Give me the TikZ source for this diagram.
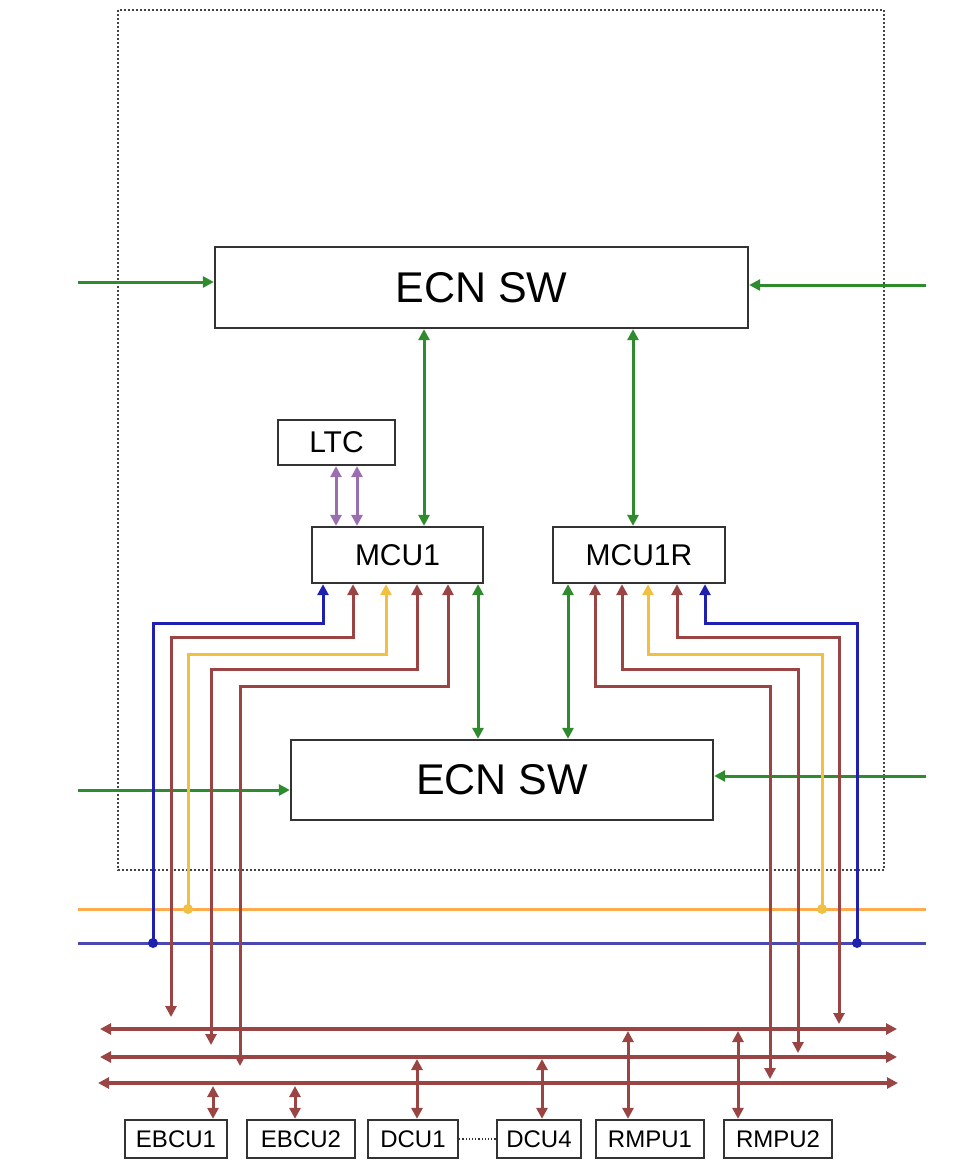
\documentclass[tikz,border=0pt]{standalone}
\usepackage{fontspec}
\setmainfont{Liberation Sans}
\usetikzlibrary{arrows.meta}
\definecolor{cgreen}{HTML}{2E8B2E}
\definecolor{cpurple}{HTML}{9A6FB0}
\definecolor{cblue}{HTML}{2020B0}
\definecolor{cbusblue}{HTML}{4848B0}
\definecolor{corange}{HTML}{FFAA4C}
\definecolor{cyellow}{HTML}{F2C040}
\definecolor{cbrown}{HTML}{9A4444}
\definecolor{cbox}{HTML}{333333}
\definecolor{cframe}{HTML}{444444}
\tikzset{
  >={Triangle[length=11pt,width=11pt]},
  box/.style={draw=cbox,line width=2.3pt,fill=white,inner sep=0pt},
  bigbox/.style={box,font=\fontsize{43}{43}\selectfont},
  midbox/.style={box,font=\fontsize{30}{30}\selectfont},
  smallbox/.style={box,font=\fontsize{24}{24}\selectfont,minimum height=38pt},
  gline/.style={draw=cgreen,line width=3pt},
  pline/.style={draw=cpurple,line width=3pt},
  bline/.style={draw=cblue,line width=3pt},
  yline/.style={draw=cyellow,line width=3pt},
  rline/.style={draw=cbrown,line width=3pt},
  rbus/.style={draw=cbrown,line width=3.2pt},
  dotnode/.style={circle,inner sep=0pt,minimum size=10pt},
  frame/.style={draw=cframe,line width=2.2pt,dash pattern=on 2pt off 2pt},
}
\begin{document}
\begin{tikzpicture}[x=1pt,y=-1pt]
\useasboundingbox (0,0) rectangle (973,1160);
% dotted frame
\draw[frame] (118,10) rectangle (884,870);

% main nodes
\node[bigbox,minimum width=533pt,minimum height=81pt] (top) at (481.5,287.5) {ECN SW};
\node[bigbox,minimum width=422pt,minimum height=80pt] (low) at (502,780) {ECN SW};
\node[midbox,minimum width=117pt,minimum height=45pt] (ltc) at (336.5,442.5) {LTC};
\node[midbox,minimum width=171pt,minimum height=56pt] (mcu1) at (397.5,555) {MCU1};
\node[midbox,minimum width=172pt,minimum height=56pt] (mcu1r) at (639,555) {MCU1R};

% bottom devices
\node[smallbox,minimum width=102pt] (ebcu1) at (176,1139) {EBCU1};
\node[smallbox,minimum width=108pt] (ebcu2) at (301,1139) {EBCU2};
\node[smallbox,minimum width=90pt] (dcu1) at (413,1139) {DCU1};
\node[smallbox,minimum width=84pt] (dcu4) at (539,1139) {DCU4};
\node[smallbox,minimum width=108pt] (rmpu1) at (650,1139) {RMPU1};
\node[smallbox,minimum width=108pt] (rmpu2) at (778,1139) {RMPU2};
\draw[cbox,line width=1.2pt,dotted] (dcu1.east) -- (dcu4.west);

% external green inputs
\coordinate (gin1) at (78,282);
\coordinate (gin2) at (926,285);
\coordinate (gin3) at (78,790);
\coordinate (gin4) at (926,776);
\draw[gline,->] (gin1) -- (gin1 -| top.west);
\draw[gline,->] (gin2) -- (gin2 -| top.east);
\draw[gline,->] (gin3) -- (gin3 -| low.west);
\draw[gline,->] (gin4) -- (gin4 -| low.east);

% green links
\draw[gline,<->] (top.south -| 424,0) -- (mcu1.north -| 424,0);
\draw[gline,<->] (top.south -| 633,0) -- (mcu1r.north -| 633,0);
\draw[gline,<->] (mcu1.south -| 478,0) -- (low.north -| 478,0);
\draw[gline,<->] (mcu1r.south -| 568,0) -- (low.north -| 568,0);

% purple LTC links
\draw[pline,<->] (ltc.south -| 336,0) -- (mcu1.north -| 336,0);
\draw[pline,<->] (ltc.south -| 357,0) -- (mcu1.north -| 357,0);

% buses
\coordinate (obusl) at (78,909);
\coordinate (obusr) at (926,909);
\coordinate (bbusl) at (78,943);
\coordinate (bbusr) at (926,943);
\draw[draw=corange,line width=3pt] (obusl) -- (obusr);
\draw[draw=cbusblue,line width=3pt] (bbusl) -- (bbusr);
\coordinate (bus1l) at (100,1029);
\coordinate (bus1r) at (897,1029);
\coordinate (bus2l) at (100,1057);
\coordinate (bus2r) at (897,1057);
\coordinate (bus3l) at (98,1083);
\coordinate (bus3r) at (898,1083);
\draw[rbus,<->] (bus1l) -- (bus1r);
\draw[rbus,<->] (bus2l) -- (bus2r);
\draw[rbus,<->] (bus3l) -- (bus3r);

% junction dots
\node[dotnode,fill=cblue] (dbl) at (153,943) {};
\node[dotnode,fill=cyellow] (dyl) at (188,909) {};
\node[dotnode,fill=cyellow] (dyr) at (822,909) {};
\node[dotnode,fill=cblue] (dbr) at (857,943) {};

% MCU1 lower links
\draw[bline,<-] (mcu1.south -| 323,0) -- (323,623) -- (153,623) -- (dbl.center);
\draw[rline,<->] (mcu1.south -| 353,0) -- (353,637) -- (171,637) -- ([yshift=12pt]bus1l -| 171,0);
\draw[yline,<-] (mcu1.south -| 386,0) -- (386,654) -- (188,654) -- (dyl.center);
\draw[rline,<->] (mcu1.south -| 417,0) -- (417,669) -- (211,669) -- ([yshift=12pt]bus2l -| 211,0);
\draw[rline,<->] (mcu1.south -| 448,0) -- (448,686) -- (240,686) -- ([yshift=17pt]bus3l -| 240,0);

% MCU1R lower links
\draw[rline,<->] (mcu1r.south -| 595,0) -- (595,686) -- (770,686) -- ([yshift=4pt]bus3r -| 770,0);
\draw[rline,<->] (mcu1r.south -| 622,0) -- (622,669) -- (798,669) -- ([yshift=4pt]bus2r -| 798,0);
\draw[yline,<-] (mcu1r.south -| 648,0) -- (648,654) -- (822,654) -- (dyr.center);
\draw[rline,<->] (mcu1r.south -| 677,0) -- (677,637) -- (839,637) -- ([yshift=5pt]bus1r -| 839,0);
\draw[bline,<-] (mcu1r.south -| 705,0) -- (705,623) -- (857,623) -- (dbr.center);

% device links
\draw[rline,<->] (ebcu1.north -| 213,0) -- ([yshift=-3pt]bus3l -| 213,0);
\draw[rline,<->] (ebcu2.north -| 295,0) -- ([yshift=-3pt]bus3l -| 295,0);
\draw[rline,<->] (dcu1.north -| 417,0) -- ([yshift=-2pt]bus2l -| 417,0);
\draw[rline,<->] (dcu4.north -| 542,0) -- ([yshift=-2pt]bus2l -| 542,0);
\draw[rline,<->] (rmpu1.north -| 628,0) -- ([yshift=-2pt]bus1l -| 628,0);
\draw[rline,<->] (rmpu2.north -| 738,0) -- ([yshift=-2pt]bus1l -| 738,0);
\end{tikzpicture}
\end{document}
